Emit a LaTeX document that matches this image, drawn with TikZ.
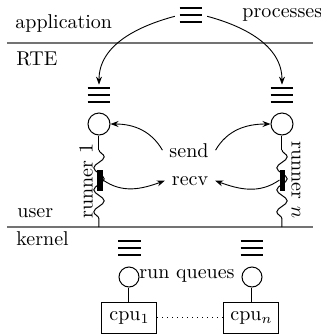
\documentclass[tikz,border=0pt]{standalone}
\usetikzlibrary{arrows.meta,decorations.pathmorphing,calc}
\newcommand\threebars[1]{\draw[line width=1.15pt]
  ([yshift=-0.575pt]#1.north west) -- ([yshift=-0.575pt]#1.north east)
  (#1.west) -- (#1.east)
  ([yshift=0.575pt]#1.south west) -- ([yshift=0.575pt]#1.south east);}
\begin{document}
\begin{tikzpicture}[x=0.5pt,y=-0.5pt,
  every node/.style={font=\fontsize{10}{12}\selectfont},
  sep/.style={draw=black!55,line width=0.7pt},
  qbar/.style={minimum width=11pt,minimum height=8pt,inner sep=0pt},
  proc/.style={circle,draw,line width=0.5pt,minimum size=11pt,inner sep=0pt},
  rqc/.style={circle,draw,line width=0.5pt,minimum size=10pt,inner sep=0pt},
  blk/.style={fill=black,minimum width=2.6pt,minimum height=10.5pt,inner sep=0pt},
  cpu/.style={draw,line width=0.5pt,minimum width=27.5pt,minimum height=15.5pt,inner sep=0pt},
  arr/.style={-{Stealth[length=4pt,width=3pt]},line width=0.45pt},
  wave/.style={decorate,decoration={snake,segment length=11pt,amplitude=2.6pt}},
  lab/.style={anchor=base west,inner sep=0pt}]
\useasboundingbox (0,0) rectangle (321,334);
% separators
\coordinate (s1a) at (7,43); \coordinate (s1b) at (313,43);
\coordinate (s2a) at (7,227); \coordinate (s2b) at (313,227);
\draw[sep] (s1a) -- (s1b);
\draw[sep] (s2a) -- (s2b);
% layer labels
\node[lab] (lapp) at (15,28) {application};
\node[lab] (lproc) at (242,17) {processes};
\node[lab] (lrte) at (16,65) {RTE};
\node[lab] (luser) at (17,217) {user};
\node[lab] (lkern) at (16,245) {kernel};
% process queues
\node[qbar] (topq) at (191,15) {};
\node[qbar] (lq) at (99,95) {};
\node[qbar] (rq) at (282,95) {};
\threebars{topq}\threebars{lq}\threebars{rq}
\draw[arr,shorten <=2.5pt,shorten >=1pt] (topq.west) to[out=195,in=90] (lq.north);
\draw[arr,shorten <=2.5pt,shorten >=1pt] (topq.east) to[out=-15,in=90] (rq.north);
% runners
\node[proc] (c1) at (99,124) {};
\node[proc] (c2) at (282,124) {};
\coordinate (w1a) at (99,150); \coordinate (w1b) at (99,227);
\coordinate (w2a) at (282,150); \coordinate (w2b) at (282,227);
\draw[line width=0.5pt] (c1.south) -- (w1a);
\draw[line width=0.5pt] (c2.south) -- (w2a);
\draw[line width=0.5pt,wave] (w1a) -- (w1b);
\draw[line width=0.5pt,wave] (w2a) -- (w2b);
\node[blk] (b1) at (100,180) {};
\node[blk] (b2) at (282.5,180) {};
\node[rotate=90] (r1) at (86,181) {runner 1};
\node[rotate=-90] (r2) at (296,180) {runner $n$};
% send / recv
\node[anchor=base] (send) at (189,157) {send};
\node[anchor=base] (recv) at (190,185) {recv};
\draw[arr] (send.west) to[out=120,in=0] (c1.east);
\draw[arr] (send.east) to[out=60,in=180] (c2.west);
\draw[arr] (b1.east) to[out=-35,in=200] (recv.west);
\draw[arr] (b2.west) to[out=215,in=-20] (recv.east);
% kernel
\node[qbar] (kq1) at (129.5,248) {};
\node[qbar] (kq2) at (252,248) {};
\threebars{kq1}\threebars{kq2}
\node[rqc] (k1) at (129,277) {};
\node[rqc] (k2) at (252,277) {};
\node[anchor=base] (rql) at (187,278) {run queues};
\node[cpu] (cpu1) at (129.5,317.5) {cpu$_1$};
\node[cpu] (cpun) at (251.5,317.5) {cpu$_n$};
\draw[line width=0.5pt] (k1.south) -- (cpu1.north -| k1.south);
\draw[line width=0.5pt] (k2.south) -- (cpun.north -| k2.south);
\draw[line width=0.5pt,dotted] (cpu1.east) -- (cpun.west);
\end{tikzpicture}
\end{document}
